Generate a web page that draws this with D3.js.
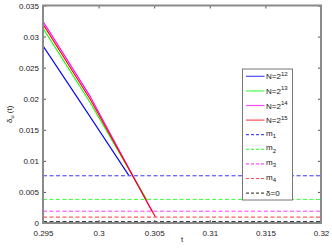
<!DOCTYPE html>
<html>
<head>
<meta charset="utf-8">
<script src="https://cdn.jsdelivr.net/npm/d3@7"></script>
<style>
  body { margin: 0; background: #fff; }
  svg { display: block; font-family: "Liberation Sans", Arial, sans-serif; }
</style>
</head>
<body>
<div class="chart"></div>
<script>
// series: [t, delta] vertices
const seriesNames = ["N=2", "N=2", "N=2", "N=2"];
const seriesExp = ["12", "13", "14", "15"];
const seriesColors = ["#0000ff", "#00ff00", "#ff00ff", "#ff0000"];
const n12 = [[0.295, 0.0285], [0.2992, 0.0172], [0.3027, 0.0077]];
const n13 = [[0.295, 0.03135], [0.2992, 0.0195], [0.3043, 0.0038]];
const n14 = [[0.295, 0.03247], [0.2992, 0.0205], [0.3048, 0.0019]];
const n15 = [[0.295, 0.0320], [0.2993, 0.01975], [0.3051, 0.0010]];
const seriesData = [n12, n13, n14, n15];

// horizontal reference levels
const levelNames = ["m", "m", "m", "m", "δ=0"];
const levelSubs = ["1", "2", "3", "4", ""];
const levelValues = [0.0076, 0.0038, 0.0019, 0.00095, 0];
const levelColors = ["#0000ff", "#00ff00", "#ff00ff", "#ff0000", "#000000"];

const xTicks = [0.295, 0.3, 0.305, 0.31, 0.315, 0.32];
const yTicks = [0, 0.005, 0.01, 0.015, 0.02, 0.025, 0.03, 0.035];

const W = 332, H = 249;
const margin = {top: 5.5, right: 11, bottom: 26, left: 43};
const width = W - margin.left - margin.right;
const height = H - margin.top - margin.bottom;

const svg = d3.select(".chart").append("svg")
    .attr("width", W).attr("height", H);
const g = svg.append("g")
    .attr("transform", `translate(${margin.left},${margin.top})`);

const x = d3.scaleLinear().domain([0.295, 0.32]).range([0, width]);
const y = d3.scaleLinear().domain([0, 0.035]).range([height, 0]);

// reference dashed lines
g.selectAll(".level")
    .data(levelValues)
    .join("line")
    .attr("x1", 0).attr("x2", width)
    .attr("y1", d => y(d) - (d === 0 ? 1.5 : 0))
    .attr("y2", d => y(d) - (d === 0 ? 1.5 : 0))
    .attr("stroke", (d, i) => levelColors[i])
    .attr("stroke-opacity", (d, i) => i === 4 ? 0.75 : 0.8)
    .attr("stroke-width", 1)
    .attr("stroke-dasharray", "4,2.5");

// series lines
const line = d3.line().x(d => x(d[0])).y(d => y(d[1]));
g.selectAll(".series")
    .data(seriesData)
    .join("path")
    .attr("fill", "none")
    .attr("stroke", (d, i) => seriesColors[i])
    .attr("stroke-width", 1.1)
    .attr("d", line);

// axes, box style with inward ticks
const axisColor = "#8a8a8a";
function styleAxis(sel, labels) {
    sel.select(".domain").remove();
    sel.selectAll(".tick line").attr("stroke", "#555").attr("stroke-width", 1);
    if (!labels) sel.selectAll(".tick text").remove();
    sel.selectAll(".tick text").attr("fill", "#222").attr("font-size", "8px")
        .attr("font-family", "Liberation Sans, Arial, sans-serif");
}
g.append("g").attr("transform", `translate(0,${height})`)
    .call(d3.axisBottom(x).tickValues(xTicks).tickSize(-3).tickPadding(7.5).tickFormat(d3.format("")))
    .call(s => styleAxis(s, true));
g.append("g")
    .call(d3.axisTop(x).tickValues(xTicks).tickSize(-3))
    .call(s => styleAxis(s, false));
g.append("g")
    .call(d3.axisLeft(y).tickValues(yTicks).tickSize(-3).tickPadding(4).tickFormat(d3.format("")))
    .call(s => styleAxis(s, true));
g.append("g").attr("transform", `translate(${width},0)`)
    .call(d3.axisRight(y).tickValues(yTicks).tickSize(-3))
    .call(s => styleAxis(s, false));

g.append("rect")
    .attr("width", width).attr("height", height)
    .attr("fill", "none").attr("stroke", axisColor).attr("stroke-width", 2);

// axis labels
svg.append("text")
    .attr("x", margin.left + width / 2).attr("y", 242)
    .attr("text-anchor", "middle").attr("font-size", "8px").attr("fill", "#222")
    .text("t");
const yl = svg.append("text")
    .attr("transform", `translate(11.5,${margin.top + height / 2}) rotate(-90)`)
    .attr("text-anchor", "middle").attr("font-size", "8px").attr("fill", "#222");
yl.append("tspan").text("δ");
yl.append("tspan").attr("font-size", "5.5px").attr("dy", 2).text("u");
yl.append("tspan").attr("dy", -2).text(" (t)");

// legend
const lg = svg.append("g").attr("transform", "translate(242.5,69)");
lg.append("rect").attr("width", 50).attr("height", 131)
    .attr("fill", "#fff").attr("stroke", "#777").attr("stroke-width", 1);
const rowH = 14.6;
const entries = seriesNames.map((n, i) => ({name: n, sup: seriesExp[i], sub: "", color: seriesColors[i], dash: null}))
    .concat(levelNames.map((n, i) => ({name: n, sup: "", sub: levelSubs[i], color: levelColors[i], dash: "3,2"})));
const row = lg.selectAll(".row").data(entries).join("g")
    .attr("transform", (d, i) => `translate(0,${7.3 + i * rowH})`);
row.append("line")
    .attr("x1", 3.5).attr("x2", 22)
    .attr("stroke", d => d.color)
    .attr("stroke-opacity", 0.7)
    .attr("stroke-width", 1.2)
    .attr("stroke-dasharray", d => d.dash);
const rt = row.append("text").attr("x", 23.5).attr("y", d => d.sub ? 1 : 3)
    .attr("font-size", "8px").attr("fill", "#111");
rt.append("tspan").text(d => d.name);
rt.filter(d => d.sup).append("tspan").attr("font-size", "6px").attr("dy", -3.5).text(d => d.sup);
rt.filter(d => d.sub).append("tspan").attr("font-size", "6px").attr("dy", 2.5).text(d => d.sub);
</script>
</body>
</html>
